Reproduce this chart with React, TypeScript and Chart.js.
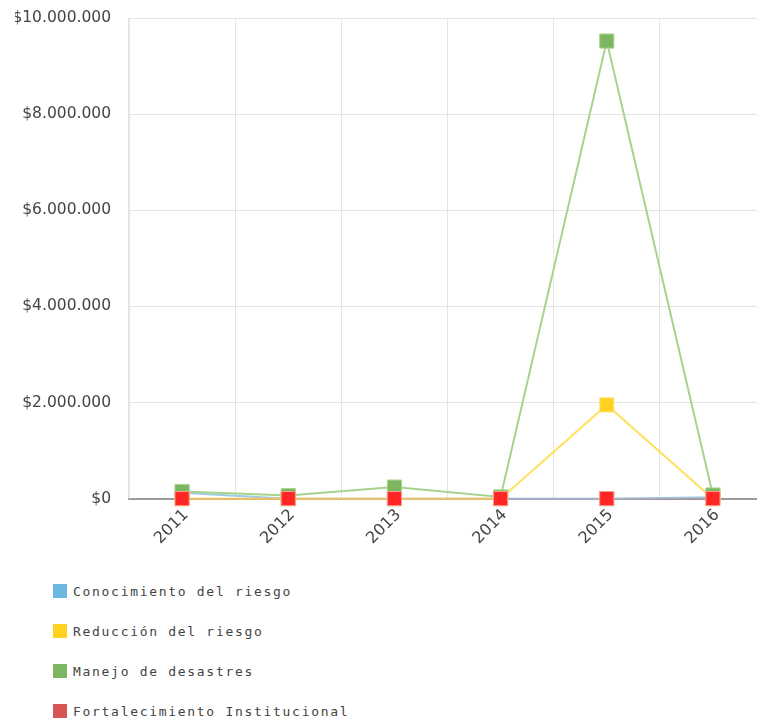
import React, { useEffect, useRef } from "react";
import { Chart, registerables } from "chart.js";

Chart.register(...registerables);

const years = ["2011", "2012", "2013", "2014", "2015", "2016"];
const seriesNames = [
  "Conocimiento del riesgo",
  "Reducción del riesgo",
  "Manejo de desastres",
  "Fortalecimiento Institucional",
];
const conocimiento = [120000, 0, 0, 0, 0, 30000];
const reduccion = [0, 0, 0, 0, 1950000, 0];
const manejo = [150000, 65000, 240000, 35000, 9520000, 75000];
const fortalecimiento = [0, 0, 0, 0, 0, 0];
const yTicks = [0, 2000000, 4000000, 6000000, 8000000, 10000000];

const legendColors = ["#6cb8e0", "#ffd21f", "#7db661", "#d65555"];
const lineColors = ["#9ccbe8", "#ffe15e", "#a7d38c", "rgba(200,120,120,0.3)"];
const pointFills = ["#6cb8e0", "#ffd21f", "#7db661", "#ff2626"];
const pointBorders = ["#a6d6f0", "#ffe680", "#a9d48f", "#ff9a8a"];

function fmt(v: number): string {
  return "$" + Math.round(v).toString().replace(/\B(?=(\d{3})+(?!\d))/g, ".");
}

export default function App() {
  const ref = useRef<HTMLCanvasElement | null>(null);

  useEffect(() => {
    if (!ref.current) return;
    const all = [conocimiento, reduccion, manejo, fortalecimiento];
    const chart = new Chart(ref.current, {
      type: "line",
      data: {
        labels: years,
        datasets: all.map((d, i) => ({
          label: seriesNames[i],
          data: d,
          borderColor: lineColors[i],
          backgroundColor: pointFills[i],
          pointBackgroundColor: pointFills[i],
          pointBorderColor: pointBorders[i],
          pointBorderWidth: 1,
          pointStyle: "rect",
          pointRadius: 10,
          borderWidth: 2,
          tension: 0,
          fill: false,
          clip: false,
          order: 4 - i,
        })),
      },
      options: {
        responsive: false,
        animation: false,
        layout: { autoPadding: false, padding: { left: 15, top: 0, right: 0, bottom: 0 } },
        plugins: {
          legend: { display: false },
          tooltip: { enabled: false },
        },
        scales: {
          x: {
            offset: true,
            grid: { offset: true, color: "#e4e4e4", drawTicks: false },
            border: { color: "#9a9a9a", width: 2 },
            ticks: {
              maxRotation: 45,
              minRotation: 45,
              padding: 7,
              labelOffset: 4,
              color: "#444",
              font: { family: "DejaVu Sans", size: 16 },
            },
          },
          y: {
            min: 0,
            max: 10000000,
            afterBuildTicks: (axis: any) => {
              axis.ticks = yTicks.map((v) => ({ value: v }));
            },
            afterFit: (axis: any) => {
              axis.width = 114;
              axis.paddingTop = 18;
              axis.paddingBottom = 10;
            },
            grid: { color: "#e4e4e4", drawTicks: false },
            border: { color: "#e4e4e4", width: 1 },
            ticks: {
              padding: 18,
              color: "#444",
              font: { family: "DejaVu Sans", size: 15.5 },
              callback: (v: any) => fmt(Number(v)),
            },
          },
        },
      },
    });
    return () => chart.destroy();
  }, []);

  return (
    <div
      style={{
        position: "absolute",
        left: 0,
        top: 0,
        width: 757,
        height: 719,
        overflow: "hidden",
        background: "#fff",
      }}
    >
      <canvas ref={ref} width={766} height={555} style={{ display: "block" }} />
      {seriesNames.map((n, i) => (
        <div
          key={n}
          style={{
            position: "absolute",
            left: 53,
            top: 582 + i * 40,
            height: 18,
            display: "flex",
            alignItems: "center",
            whiteSpace: "nowrap",
          }}
        >
          <span
            style={{
              display: "inline-block",
              width: 14,
              height: 14,
              background: legendColors[i],
              marginRight: 6,
            }}
          />
          <span
            style={{
              fontFamily: "DejaVu Sans Mono",
              fontSize: 13,
              letterSpacing: "1.7px",
              color: "#444",
            }}
          >
            {n}
          </span>
        </div>
      ))}
    </div>
  );
}
